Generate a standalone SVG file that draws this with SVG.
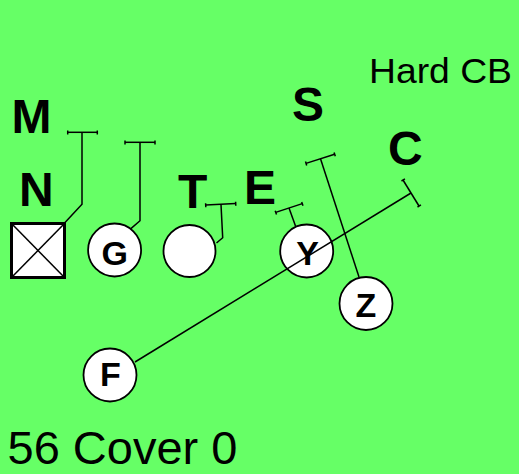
<svg xmlns="http://www.w3.org/2000/svg" width="519" height="474" viewBox="0 0 519 474">
<style>
.lbl{font-family:"Liberation Sans",Arial,sans-serif;font-weight:bold;font-size:48px;fill:#000}
.txt{font-family:"Liberation Sans",Arial,sans-serif;fill:#000}
.nl{font-family:"Liberation Sans",Arial,sans-serif;font-weight:bold;font-size:34px;fill:#000;text-anchor:middle}
.pc{fill:#fff;stroke:#000;stroke-width:1.8}
.rt{fill:none;stroke:#000;stroke-width:1.5}
</style>
<rect width="519" height="474" fill="#66FF66"/>
<g id="labels">
<text class="lbl" x="11.5" y="133">M</text>
<text class="lbl" x="19" y="205.5">N</text>
<text class="lbl" x="178" y="208">T</text>
<text class="lbl" x="244" y="204">E</text>
<text class="lbl" x="292" y="121">S</text>
<text class="lbl" x="388" y="165">C</text>
<text class="txt" x="369" y="82.5" font-size="35" textLength="143" lengthAdjust="spacingAndGlyphs">Hard CB</text>
<text class="txt" x="7.5" y="463.5" font-size="47">56 Cover 0</text>
</g>
<g id="node-N">
<rect x="11.5" y="223.5" width="53" height="54" fill="#fff" stroke="#000" stroke-width="3"/>
<line x1="11.5" y1="223.5" x2="64.5" y2="277.5" stroke="#000" stroke-width="1.5"/>
<line x1="64.5" y1="223.5" x2="11.5" y2="277.5" stroke="#000" stroke-width="1.5"/>
</g>
<g id="node-G">
<circle class="pc" cx="114.6" cy="250" r="26.5"/>
<text class="nl" x="114.8" y="264.5">G</text>
</g>
<g id="node-T">
<circle class="pc" cx="189.5" cy="251" r="26" stroke-width="3"/>
</g>
<g id="node-Y">
<circle class="pc" cx="306.7" cy="251" r="26.5"/>
<text class="nl" x="307.5" y="264.5">Y</text>
</g>
<g id="node-Z">
<circle class="pc" cx="366" cy="303.5" r="26.5"/>
<text class="nl" x="366" y="316.5">Z</text>
</g>
<g id="node-F">
<circle class="pc" cx="110" cy="375" r="26.5"/>
<text class="nl" x="110.5" y="386">F</text>
</g>
<g id="connectors">
<polyline class="rt" points="65,222.5 82,204.3 82,132.3"/>
<line class="rt" x1="67.7" y1="132.3" x2="97.3" y2="132.3"/>
<line class="rt" x1="67.7" y1="130.5" x2="67.7" y2="134.5"/>
<line class="rt" x1="97.3" y1="130.5" x2="97.3" y2="134.5"/>
<polyline class="rt" points="130.6,228.9 140,220.7 140,142.3"/>
<line class="rt" x1="125" y1="142.3" x2="155" y2="142.3"/>
<line class="rt" x1="125" y1="140.5" x2="125" y2="144.5"/>
<line class="rt" x1="155" y1="140.5" x2="155" y2="144.5"/>
<polyline class="rt" points="216.5,243 222.7,237.7 221,204.5"/>
<line class="rt" x1="205.7" y1="205" x2="235.7" y2="203.5"/>
<line class="rt" x1="205.6" y1="203.2" x2="205.8" y2="207.2"/>
<line class="rt" x1="235.6" y1="201.7" x2="235.8" y2="205.7"/>
<line class="rt" x1="295.5" y1="226" x2="289" y2="208"/>
<line class="rt" x1="275.7" y1="212.4" x2="302.3" y2="203.6"/>
<line class="rt" x1="275.2" y1="210.7" x2="276.5" y2="214.5"/>
<line class="rt" x1="301.7" y1="201.9" x2="303" y2="205.7"/>
<line class="rt" x1="359" y1="277" x2="320.5" y2="158.8"/>
<line class="rt" x1="306" y1="163.4" x2="334.6" y2="154.2"/>
<line class="rt" x1="305.5" y1="161.6" x2="306.7" y2="165.4"/>
<line class="rt" x1="334.1" y1="152.4" x2="335.3" y2="156.2"/>
<line class="rt" x1="135" y1="362" x2="411" y2="193"/>
<line class="rt" x1="403" y1="180" x2="419" y2="206"/>
<line class="rt" x1="401.5" y1="181" x2="404.9" y2="178.9"/>
<line class="rt" x1="417.5" y1="207" x2="420.9" y2="204.9"/>
</g>
</svg>
